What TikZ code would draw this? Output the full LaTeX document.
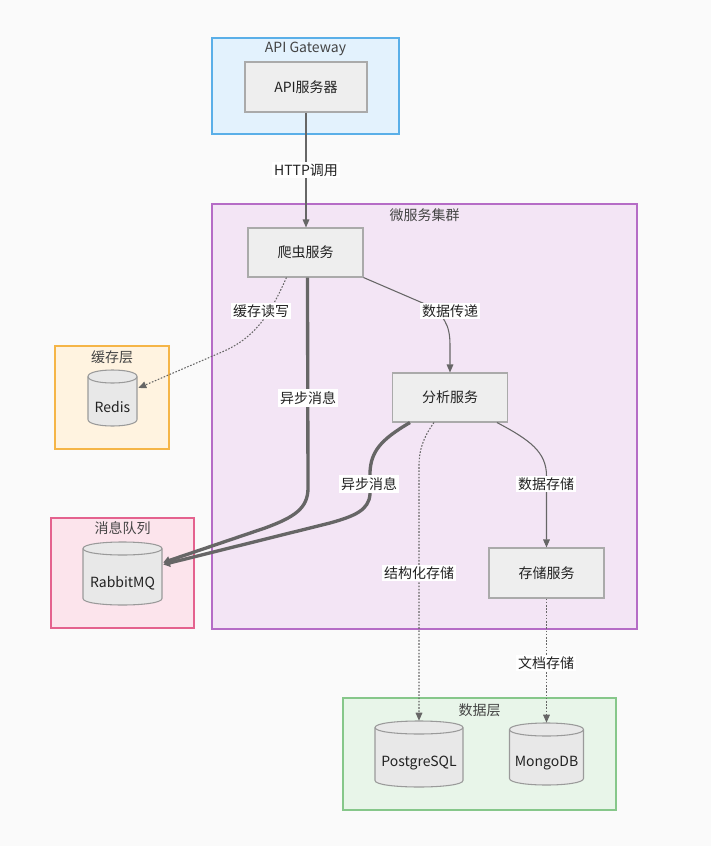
\documentclass[tikz,border=0pt]{standalone}
\usepackage{fontspec}
\setmainfont{Noto Sans CJK SC}
\usetikzlibrary{arrows.meta,calc}
\definecolor{bgc}{HTML}{FAFAFA}
\definecolor{gwfill}{HTML}{E3F2FD}\definecolor{gwline}{HTML}{5AAFE8}
\definecolor{msfill}{HTML}{F3E5F5}\definecolor{msline}{HTML}{B56CC6}
\definecolor{cafill}{HTML}{FFF3E0}\definecolor{caline}{HTML}{F5B547}
\definecolor{mqfill}{HTML}{FCE4EC}\definecolor{mqline}{HTML}{E4628E}
\definecolor{dbfill}{HTML}{E8F5E9}\definecolor{dbline}{HTML}{86C78A}
\definecolor{nodefill}{HTML}{EEEEEE}\definecolor{nodeline}{HTML}{AAAAAA}
\definecolor{cylfillc}{HTML}{E8E8E8}\definecolor{cyllinec}{HTML}{9A9A9A}
\definecolor{edgec}{HTML}{666666}\definecolor{txt}{HTML}{222222}\definecolor{ttl}{HTML}{444444}
\newcommand{\dbcyl}[6]{%
  \pgfmathsetmacro\cyt{#3+6.5}\pgfmathsetmacro\cyb{#5-6.5}%
  \pgfmathsetmacro\cytu{#3-2.17}\pgfmathsetmacro\cytd{#3+15.17}%
  \pgfmathsetmacro\cybk{#5+2.17}%
  \path[cylshape] (#2,\cyt) -- (#2,\cyb) .. controls (#2,\cybk) and (#4,\cybk) .. (#4,\cyb) -- (#4,\cyt) .. controls (#4,\cytu) and (#2,\cytu) .. (#2,\cyt) -- cycle;
  \draw[cylrim] (#2,\cyt) .. controls (#2,\cytd) and (#4,\cytd) .. (#4,\cyt);
  \node[cylbox, minimum width={(#4-#2)*0.75pt}, minimum height={(#5-#3)*0.75pt}] (#1) at ({(#2+#4)/2},{(#3+#5)/2}) {};
  \node[txtnode] (#1-t) at ([yshift=-7pt]#1.center) {#6};
}
\begin{document}
\begin{tikzpicture}[x=0.75pt,y=-0.75pt,
  font=\fontsize{10.5pt}{12pt}\selectfont,
  cluster/.style={draw, line width=0.8pt, inner sep=0pt},
  title/.style={text=ttl, inner sep=1pt},
  svc/.style={draw=nodeline, fill=nodefill, line width=0.8pt, minimum width=86.25pt, minimum height=36.75pt, text=txt, inner sep=0pt},
  cylshape/.style={draw=cyllinec, fill=cylfillc, line width=0.8pt},
  cylrim/.style={draw=cyllinec, line width=0.8pt},
  cylbox/.style={inner sep=0pt, draw=none},
  txtnode/.style={text=txt, inner sep=0pt},
  edge/.style={draw=edgec, line width=0.8pt, -{Triangle[length=6pt,width=5pt]}},
  dotedge/.style={draw=edgec, line width=0.8pt, dash pattern=on 1.2pt off 1.2pt, -{Triangle[length=6pt,width=5pt]}},
  thickedge/.style={draw=edgec, line width=2.5pt, -{Triangle[length=5pt,width=6pt]}},
  elabel/.style={fill=white, text=txt, inner sep=1.5pt},
]
\fill[bgc] (0,0) rectangle (711,846);
\useasboundingbox (0,0) rectangle (711,846);

% clusters
\node[cluster, draw=gwline, fill=gwfill, minimum width=140.25pt, minimum height=72pt] (gw) at (305.5,86) {};
\node[title] (gw-t) at (305.5,49) {API Gateway};
\node[cluster, draw=msline, fill=msfill, minimum width=318.75pt, minimum height=318.75pt] (ms) at (424.5,416.5) {};
\node[title] (ms-t) at (424.5,215) {微服务集群};
\node[cluster, draw=caline, fill=cafill, minimum width=85.5pt, minimum height=77.25pt] (cache) at (112,397.5) {};
\node[title] (cache-t) at (112,357) {缓存层};
\node[cluster, draw=mqline, fill=mqfill, minimum width=107.25pt, minimum height=82.5pt] (mq) at (122.5,573) {};
\node[title] (mq-t) at (122.5,528) {消息队列};
\node[cluster, draw=dbline, fill=dbfill, minimum width=204.75pt, minimum height=84pt] (data) at (479.5,754) {};
\node[title] (data-t) at (479.5,710) {数据层};

% services
\node[svc, minimum width=91.5pt, minimum height=37.5pt] (api) at (306,87) {API服务器};
\node[svc] (crawler) at (305.5,252.5) {爬虫服务};
\node[svc] (analysis) at (450,397.5) {分析服务};
\node[svc, minimum height=37.5pt] (storage) at (546.5,573) {存储服务};

% databases
\dbcyl{redis}{88}{370}{137}{426}{Redis}
\dbcyl{rabbit}{83}{542}{162}{605}{RabbitMQ}
\dbcyl{pg}{375}{721}{463}{787}{PostgreSQL}
\dbcyl{mongo}{509.5}{723}{583.5}{785}{MongoDB}

% edges
\draw[edge] (api.south) -- (api.south |- crawler.north);
\draw[dotedge] ($(crawler.south west)+(39,0)$) .. controls (271,312) and (257,337) .. (222,352) -- ($(redis.east)+(1,-10)$);
\draw[thickedge] ($(crawler.south west)+(60,0)$) -- (308,488) .. controls (308,508) and (295,517) .. (265,528) -- ($(rabbit.east)+(1,-11)$);
\draw[edge] (crawler.south east) -- (425,304) .. controls (444,314) and (450,325) .. (450,345) -- (analysis.north);
\draw[thickedge] ($(analysis.south west)+(18,0)$) .. controls (380,440) and (371,452) .. (370,472) -- (370,494) .. controls (369,510) and (355,516) .. (330,523) -- ($(rabbit.east)+(1,-9)$);
\draw[dotedge] ($(analysis.south west)+(42,0)$) .. controls (423,438) and (419,450) .. (419,466) -- (pg.north);
\draw[edge] ($(analysis.south west)+(105,0)$) .. controls (530,440) and (546.5,452) .. (546.5,476) -- (storage.north);
\draw[dotedge] (storage.south) -- (mongo.north);

% labels
\node[elabel] (l1) at (306,170) {HTTP调用};
\node[elabel] (l2) at (261,311) {缓存读写};
\node[elabel] (l3) at (308,398) {异步消息};
\node[elabel] (l4) at (450,311) {数据传递};
\node[elabel] (l5) at (369,484) {异步消息};
\node[elabel] (l6) at (546,484) {数据存储};
\node[elabel] (l7) at (419,573) {结构化存储};
\node[elabel] (l8) at (546,663) {文档存储};
\end{tikzpicture}
\end{document}
